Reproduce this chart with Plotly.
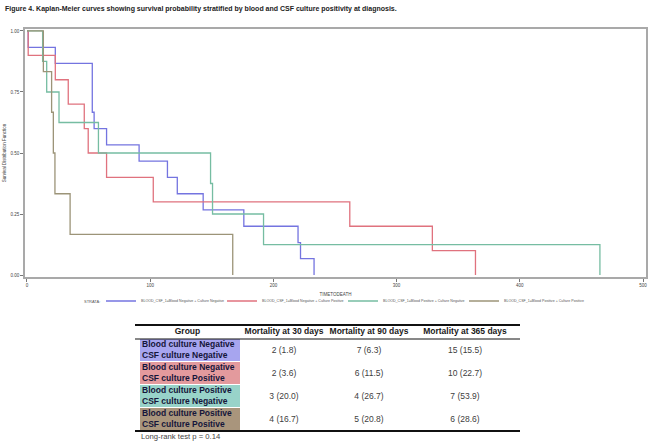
import plotly.graph_objects as go

W, H = 650, 443

# ---------------- data ----------------
strata_names = [
    "BLOOD_CSF_1=Blood Negative + Culture Negative",
    "BLOOD_CSF_1=Blood Negative + Culture Positive",
    "BLOOD_CSF_1=Blood Positive + Culture Negative",
    "BLOOD_CSF_1=Blood Positive + Culture Positive",
]
blue_t = [0, 1, 23, 53, 54.5, 64.6, 91, 114, 122, 143, 176, 220, 222, 233]
blue_s = [1.0, 0.933, 0.867, 0.667, 0.600, 0.533, 0.467, 0.400, 0.333, 0.267, 0.200, 0.133, 0.067, 0.0]
red_t = [0, 1, 23, 33.5, 46.5, 49.7, 64.6, 102.5, 262, 329, 364]
red_s = [1.0, 0.9, 0.8, 0.7, 0.6, 0.5, 0.4, 0.3, 0.2, 0.1, 0.0]
green_t = [0, 12.7, 16, 26, 58, 149, 150.6, 192, 465]
green_s = [1.0, 0.875, 0.75, 0.625, 0.5, 0.375, 0.25, 0.125, 0.0]
olive_t = [0, 13.3, 20, 21.4, 22.7, 35, 167]
olive_s = [1.0, 0.833, 0.667, 0.5, 0.333, 0.167, 0.0]

x_ticks = [0, 100, 200, 300, 400, 500]
y_ticks = [0.0, 0.25, 0.5, 0.75, 1.0]

table_header = ["Group", "Mortality at 30 days", "Mortality at 90 days", "Mortality at 365 days"]
table_groups = [
    "Blood culture Negative<br>CSF culture Negative",
    "Blood culture Negative<br>CSF culture Positive",
    "Blood culture Positive<br>CSF culture Negative",
    "Blood culture Positive<br>CSF culture Positive",
]
mort_30 = ["2 (1.8)", "2 (3.6)", "3 (20.0)", "4 (16.7)"]
mort_90 = ["7 (6.3)", "6 (11.5)", "4 (26.7)", "5 (20.8)"]
mort_365 = ["15 (15.5)", "10 (22.7)", "7 (53.9)", "6 (28.6)"]

title_text = ("Figure 4. Kaplan-Meier curves showing survival probability stratified by "
              "blood and CSF culture positivity at diagnosis.")
logrank_text = "Long-rank test p = 0.14"
legend_title = "STRATA:"

# ---------------- styles / layout geometry ----------------
FONT = "Liberation Sans, Arial, sans-serif"
line_colors = ["#7474e0", "#e0727e", "#76bda2", "#9c9478"]
cell_colors = ["#a7a5ef", "#e39a9d", "#98d3c9", "#a9957c"]
col_widths = [105, 88, 82, 110]          # table column widths (px)
header_h, row_h = 14, 23                  # table row heights (px)
TBL_LEFT, TBL_TOP = 135, 325
TBL_FONT = 8.5

def px_x(p):
    return p / W

def px_y(p):
    return 1 - p / H

col_edges = [0]
for w in col_widths:
    col_edges.append(col_edges[-1] + w)
col_centers = [(a + b) / 2 for a, b in zip(col_edges[:-1], col_edges[1:])]
n_rows = len(table_groups)
row_edges = [header_h + i * row_h for i in range(n_rows + 1)]
row_centers = [(a + b) / 2 for a, b in zip(row_edges[:-1], row_edges[1:])]
tbl_w = col_edges[-1]
tbl_h = row_edges[-1]

fig = go.Figure()
for name, t, s, c in zip(strata_names,
                         [blue_t, red_t, green_t, olive_t],
                         [blue_s, red_s, green_s, olive_s],
                         line_colors):
    fig.add_trace(go.Scatter(x=t, y=s, mode="lines", line=dict(shape="hv", color=c, width=1.3),
                             name=name, xaxis="x", yaxis="y"))

# ---------------- table on its own hidden axes ----------------
n = len(cell_colors)
cscale = []
for i, c in enumerate(cell_colors):
    cscale.append([i / n, c])
    cscale.append([(i + 1) / n, c])
fig.add_trace(go.Heatmap(
    x=[5, col_edges[1]], y=row_edges, z=[[i] for i in range(n_rows)],
    zmin=-0.5, zmax=n - 0.5, colorscale=cscale, showscale=False, ygap=1,
    hoverinfo="skip", xaxis="x2", yaxis="y2", showlegend=False))

fig.add_trace(go.Scatter(
    x=col_centers, y=[header_h / 2] * len(table_header), mode="text",
    text=["<b>%s</b>" % h for h in table_header], textposition="middle center",
    textfont=dict(family=FONT, size=TBL_FONT, color="#1a1a1a"),
    hoverinfo="skip", xaxis="x2", yaxis="y2", showlegend=False))
fig.add_trace(go.Scatter(
    x=[7] * n_rows, y=row_centers, mode="text",
    text=["<b>%s</b>" % g for g in table_groups], textposition="middle right",
    textfont=dict(family=FONT, size=TBL_FONT, color="#15153a"),
    hoverinfo="skip", xaxis="x2", yaxis="y2", showlegend=False))
for ci, vals in zip(col_centers[1:], [mort_30, mort_90, mort_365]):
    fig.add_trace(go.Scatter(
        x=[ci] * n_rows, y=row_centers, mode="text", text=vals,
        textposition="middle center",
        textfont=dict(family=FONT, size=TBL_FONT, color="#404040"),
        hoverinfo="skip", xaxis="x2", yaxis="y2", showlegend=False))

axis_common = dict(showgrid=False, zeroline=False, showline=True, linecolor="#a9a9a9",
                   linewidth=1.5, mirror=True, ticks="outside", ticklen=3, tickwidth=0.8,
                   tickcolor="#777777", tickfont=dict(family=FONT, size=4.5, color="#444444"))

fig.update_layout(
    width=W, height=H, margin=dict(l=0, r=0, t=0, b=0),
    paper_bgcolor="white", plot_bgcolor="white",
    font=dict(family=FONT),
    xaxis=dict(domain=[px_x(25), px_x(646)], range=[-1.6, 502.4], tickvals=x_ticks,
               title=dict(text="TIMETODEATH", font=dict(family=FONT, size=4.5, color="#444444"), standoff=6),
               **axis_common),
    yaxis=dict(domain=[px_y(277), px_y(29)], range=[-0.008, 1.008], tickvals=y_ticks,
               tickformat=".2f",
               title=dict(text="Survival Distribution Function",
                          font=dict(family=FONT, size=4.5, color="#444444"), standoff=4),
               **axis_common),
    xaxis2=dict(domain=[px_x(TBL_LEFT), px_x(TBL_LEFT + tbl_w)], range=[0, tbl_w],
                visible=False, anchor="y2"),
    yaxis2=dict(domain=[px_y(TBL_TOP + tbl_h), px_y(TBL_TOP)], range=[tbl_h, 0],
                visible=False, anchor="x2"),
    legend=dict(orientation="h", x=px_x(101), xanchor="left", y=px_y(301), yanchor="middle",
                font=dict(family=FONT, size=3.6, color="#555555"),
                entrywidth=76, entrywidthmode="pixels", itemwidth=30,
                bgcolor="rgba(0,0,0,0)", tracegroupgap=0),
    showlegend=True,
)

# table rules
for y0, w in [(TBL_TOP, 2), (TBL_TOP + header_h, 1), (TBL_TOP + tbl_h, 2)]:
    fig.add_shape(type="line", xref="paper", yref="paper", x0=px_x(TBL_LEFT), x1=px_x(TBL_LEFT + tbl_w),
                  y0=px_y(y0), y1=px_y(y0), line=dict(color="#111111", width=w))

fig.add_annotation(text="<b>%s</b>" % title_text, xref="paper", yref="paper",
                   x=px_x(3), y=px_y(9), xanchor="left", yanchor="middle", showarrow=False,
                   font=dict(family=FONT, size=7, color="#222222"))
fig.add_annotation(text=legend_title, xref="paper", yref="paper",
                   x=px_x(82), y=px_y(301), xanchor="left", yanchor="middle", showarrow=False,
                   font=dict(family=FONT, size=4, color="#555555"))
fig.add_annotation(text=logrank_text, xref="paper", yref="paper",
                   x=px_x(139), y=px_y(436.5), xanchor="left", yanchor="middle", showarrow=False,
                   font=dict(family=FONT, size=7.7, color="#444444"))

fig.write_html("out.html")
